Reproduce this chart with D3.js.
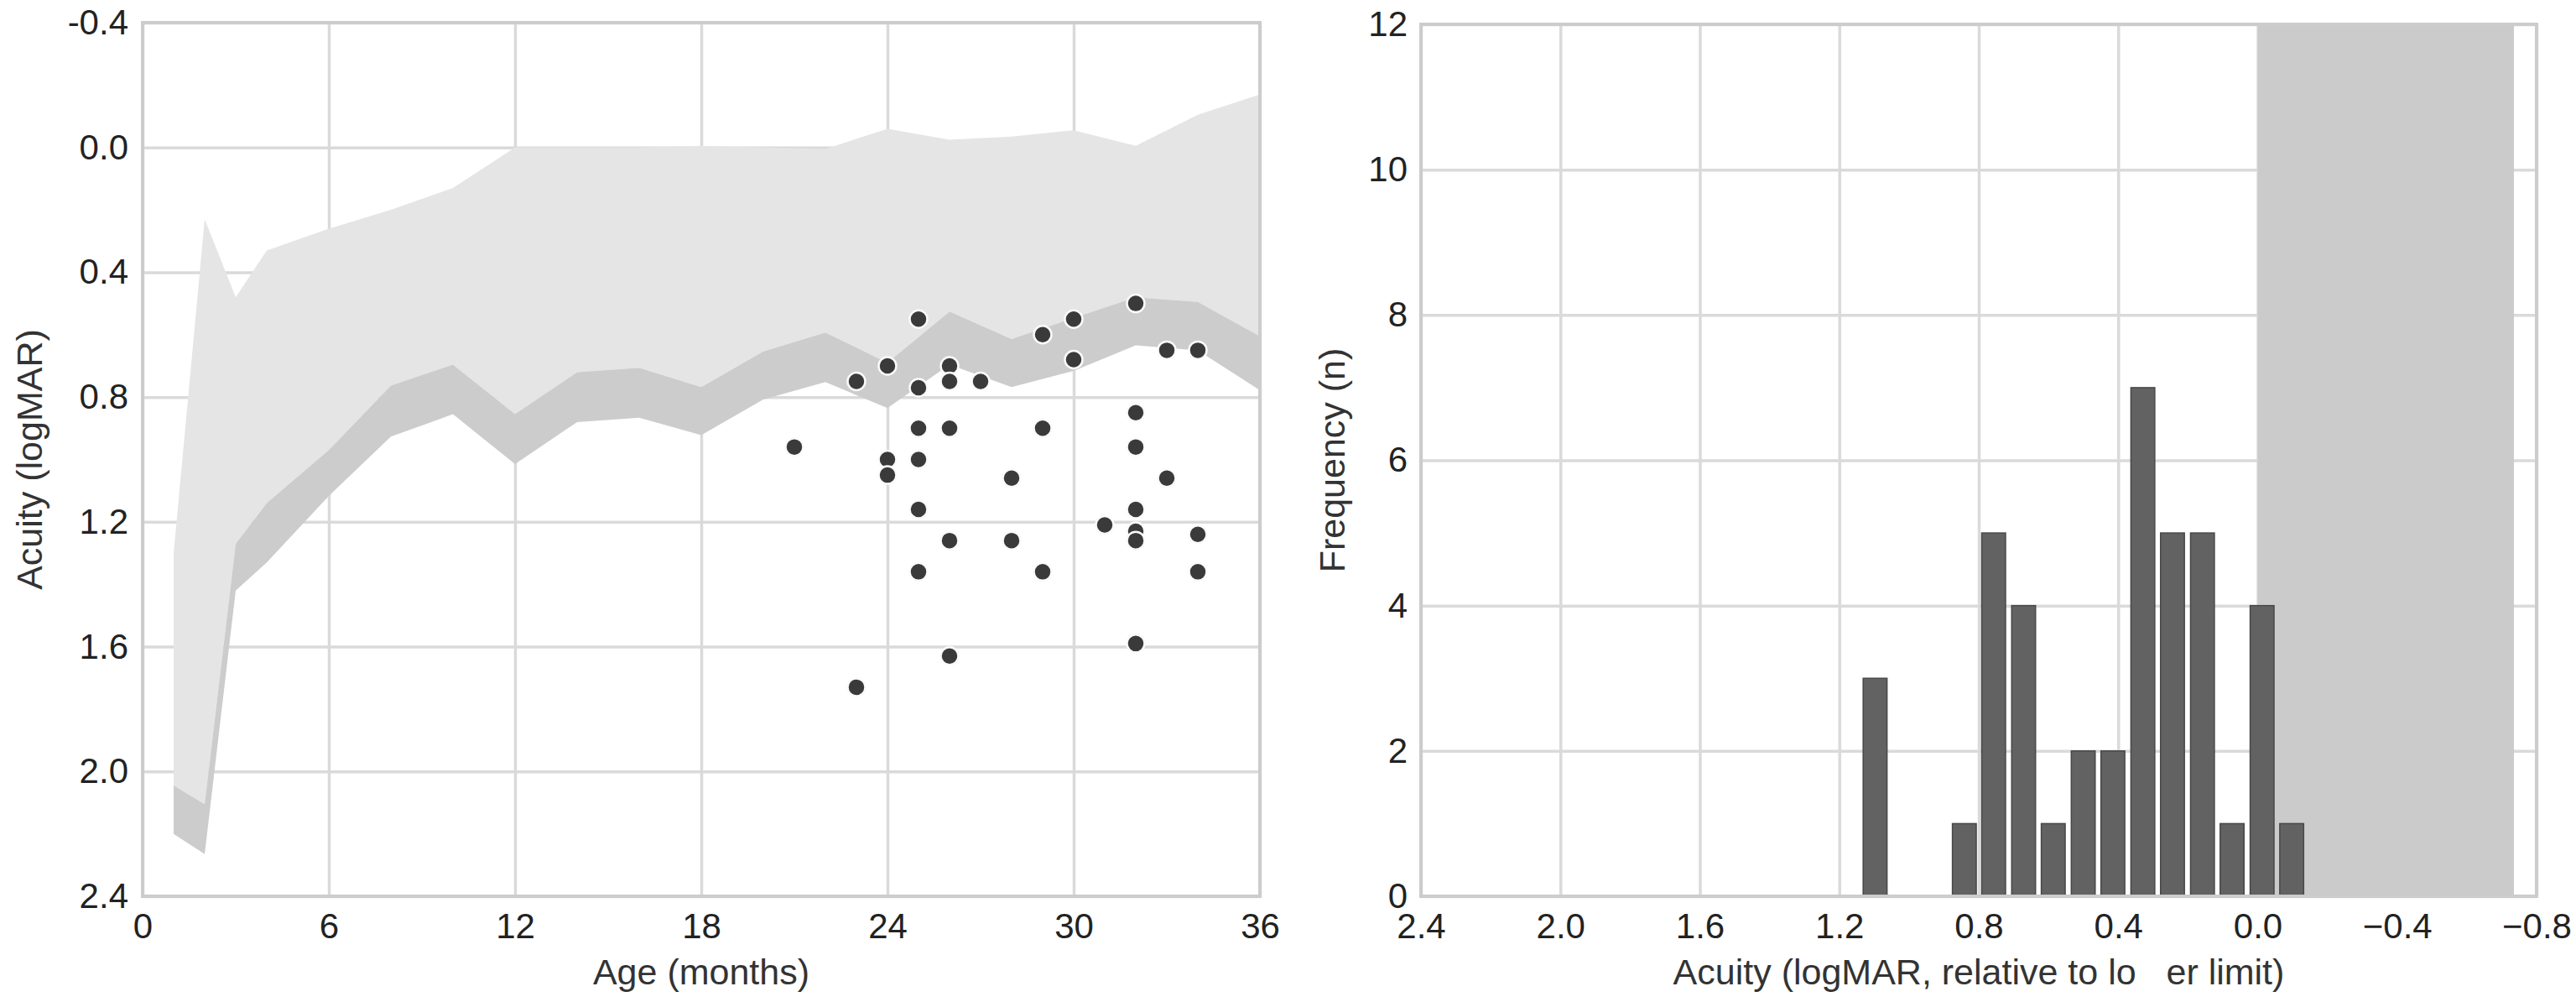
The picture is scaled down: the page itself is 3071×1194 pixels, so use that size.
<!DOCTYPE html>
<html>
<head>
<meta charset="UTF-8">
<title>Acuity by age</title>
<script src="https://cdnjs.cloudflare.com/ajax/libs/d3/7.8.5/d3.min.js"></script>
<style>
  body { margin: 0; background: #fff; }
  svg text { font-family: "Liberation Sans", Arial, sans-serif; }
</style>
</head>
<body>
<div id="chart"></div>
<script>
// ---- left panel: normative band by age + individual acuities ----
const bandAge    = [1, 2, 3, 4, 6, 8, 10, 12, 14, 16, 18, 20, 22, 24, 26, 28, 30, 32, 34, 36];
const bandUpper  = [1.30, 0.23, 0.48, 0.33, 0.26, 0.20, 0.13, 0.00, 0.00, 0.00, -0.005, 0.00, 0.005, -0.06, -0.025, -0.035, -0.055, -0.005, -0.105, -0.17];
const bandLower  = [2.045, 2.105, 1.27, 1.14, 0.97, 0.763, 0.696, 0.855, 0.72, 0.706, 0.768, 0.654, 0.593, 0.69, 0.526, 0.614, 0.546, 0.48, 0.495, 0.605];
const limitLower = [2.20, 2.265, 1.42, 1.33, 1.117, 0.927, 0.855, 1.015, 0.88, 0.866, 0.922, 0.808, 0.752, 0.835, 0.696, 0.768, 0.716, 0.634, 0.65, 0.778];

const ptAge    = [25, 23, 24, 25, 26, 26, 27, 29, 30, 30, 32, 33, 34, 21, 24, 24, 25, 26, 29, 25, 32, 32, 28, 33, 25, 32, 31, 32, 32, 34, 26, 28, 25, 29, 34, 32, 26, 23];
const ptAcuity = [0.55, 0.75, 0.70, 0.77, 0.70, 0.75, 0.75, 0.60, 0.55, 0.68, 0.50, 0.65, 0.65, 0.96, 1.00, 1.05, 0.90, 0.90, 0.90, 1.00, 0.85, 0.96, 1.06, 1.06, 1.16, 1.16, 1.21, 1.23, 1.26, 1.24, 1.26, 1.26, 1.36, 1.36, 1.36, 1.59, 1.63, 1.73];

const ageTicks    = [0, 6, 12, 18, 24, 30, 36];
const acuityTicks = [-0.4, 0.0, 0.4, 0.8, 1.2, 1.6, 2.0, 2.4];

// ---- right panel: histogram relative to lower limit ----
const binHigh  = [1.140, 0.884, 0.800, 0.714, 0.629, 0.543, 0.458, 0.372, 0.287, 0.201, 0.116, 0.030, -0.055];
const binCount = [3, 1, 5, 4, 1, 2, 2, 7, 5, 5, 1, 4, 1];
const binWidth = 0.0853;
const normalZone = [0.0, -0.735];

const relTicks  = [2.4, 2.0, 1.6, 1.2, 0.8, 0.4, 0.0, -0.4, -0.8];
const freqTicks = [0, 2, 4, 6, 8, 10, 12];

const W = 3071, H = 1194;
const gridCol = "#dadada", frameCol = "#cccccc";
const font = '"Liberation Sans", Arial, sans-serif';

const svg = d3.select("#chart").append("svg")
    .attr("width", W).attr("height", H)
    .attr("viewBox", `0 0 ${W} ${H}`);

function styleGrid(g) {
    g.select(".domain").remove();
    g.selectAll("line").attr("stroke", gridCol).attr("stroke-width", 3.5);
}
function styleLabels(g) {
    g.select(".domain").remove();
    g.attr("font-family", font).attr("font-size", 42);
    g.selectAll("text").attr("fill", "#222");
}

// ================= left panel =================
const x = d3.scaleLinear([0, 36], [170, 1502]);
const y = d3.scaleLinear([-0.4, 2.4], [27, 1068]);
const left = svg.append("g");

left.append("g").attr("transform", `translate(0,${y(2.4)})`)
    .call(d3.axisBottom(x).tickValues(ageTicks).tickSize(-(y(2.4) - y(-0.4))).tickFormat(""))
    .call(styleGrid);
left.append("g").attr("transform", `translate(${x(0)},0)`)
    .call(d3.axisLeft(y).tickValues(acuityTicks).tickSize(-(x(36) - x(0))).tickFormat(""))
    .call(styleGrid);

const band = bandAge.map((a, i) => ({ age: a, up: bandUpper[i], lo: bandLower[i], lim: limitLower[i] }));

left.append("path").datum(band)
    .attr("fill", "#e5e5e5")
    .attr("d", d3.area().x(d => x(d.age)).y0(d => y(d.up)).y1(d => y(d.lo)));
left.append("path").datum(band)
    .attr("fill", "#cccccc")
    .attr("d", d3.area().x(d => x(d.age)).y0(d => y(d.lo)).y1(d => y(d.lim)));

left.append("rect")
    .attr("x", x(0)).attr("y", y(-0.4))
    .attr("width", x(36) - x(0)).attr("height", y(2.4) - y(-0.4))
    .attr("fill", "none").attr("stroke", frameCol).attr("stroke-width", 4);

left.append("g").selectAll("circle")
    .data(ptAge.map((a, i) => [a, ptAcuity[i]]))
    .join("circle")
    .attr("cx", d => x(d[0])).attr("cy", d => y(d[1]))
    .attr("r", 10.5)
    .attr("fill", "#3a3a3a").attr("stroke", "#fafafa").attr("stroke-width", 2.5);

left.append("g").attr("transform", `translate(0,${y(2.4)})`)
    .call(d3.axisBottom(x).tickValues(ageTicks).tickSize(0).tickPadding(20).tickFormat(d3.format("d")))
    .call(styleLabels);
left.append("g").attr("transform", `translate(${x(0)},0)`)
    .call(d3.axisLeft(y).tickValues(acuityTicks).tickSize(0).tickPadding(17).tickFormat(d => d.toFixed(1)))
    .call(styleLabels);

left.append("text")
    .attr("x", (x(0) + x(36)) / 2).attr("y", 1173)
    .attr("text-anchor", "middle").attr("font-size", 43).attr("fill", "#333")
    .text("Age (months)");
left.append("text")
    .attr("transform", `translate(50,${(y(-0.4) + y(2.4)) / 2}) rotate(-90)`)
    .attr("text-anchor", "middle").attr("font-size", 43).attr("fill", "#333")
    .text("Acuity (logMAR)");

// ================= right panel =================
const x2 = d3.scaleLinear([2.4, -0.8], [1694, 3024]);
const y2 = d3.scaleLinear([0, 12], [1068, 29]);
const right = svg.append("g");

right.append("g").attr("transform", `translate(0,${y2(0)})`)
    .call(d3.axisBottom(x2).tickValues(relTicks).tickSize(-(y2(0) - y2(12))).tickFormat(""))
    .call(styleGrid);
right.append("g").attr("transform", `translate(${x2(2.4)},0)`)
    .call(d3.axisLeft(y2).tickValues(freqTicks).tickSize(-(x2(-0.8) - x2(2.4))).tickFormat(""))
    .call(styleGrid);

right.append("rect")
    .attr("x", x2(normalZone[0])).attr("y", y2(12))
    .attr("width", x2(normalZone[1]) - x2(normalZone[0]))
    .attr("height", y2(0) - y2(12))
    .attr("fill", "#cbcbcb");

const gap = 7;
right.append("g").selectAll("rect")
    .data(binHigh.map((b, i) => ({ hi: b, n: binCount[i] })))
    .join("rect")
    .attr("x", d => x2(d.hi) + gap / 2)
    .attr("width", d => x2(d.hi - binWidth) - x2(d.hi) - gap)
    .attr("y", d => y2(d.n))
    .attr("height", d => y2(0) - y2(d.n))
    .attr("fill", "#626262").attr("stroke", "#484848").attr("stroke-width", 1.5);

right.append("rect")
    .attr("x", x2(2.4)).attr("y", y2(12))
    .attr("width", x2(-0.8) - x2(2.4)).attr("height", y2(0) - y2(12))
    .attr("fill", "none").attr("stroke", frameCol).attr("stroke-width", 4);

right.append("g").attr("transform", `translate(0,${y2(0)})`)
    .call(d3.axisBottom(x2).tickValues(relTicks).tickSize(0).tickPadding(20).tickFormat(d3.format(".1f")))
    .call(styleLabels);
right.append("g").attr("transform", `translate(${x2(2.4)},0)`)
    .call(d3.axisLeft(y2).tickValues(freqTicks).tickSize(0).tickPadding(16).tickFormat(d3.format("d")))
    .call(styleLabels);

right.append("text")
    .attr("x", (x2(2.4) + x2(-0.8)) / 2).attr("y", 1173)
    .attr("text-anchor", "middle").attr("font-size", 43).attr("fill", "#333")
    .style("white-space", "pre")
    .text("Acuity (logMAR, relative to lo\u00a0\u00a0\u00a0er limit)");
right.append("text")
    .attr("transform", `translate(1603,${(y2(0) + y2(12)) / 2}) rotate(-90)`)
    .attr("text-anchor", "middle").attr("font-size", 43).attr("fill", "#333")
    .text("Frequency (n)");
</script>
</body>
</html>
